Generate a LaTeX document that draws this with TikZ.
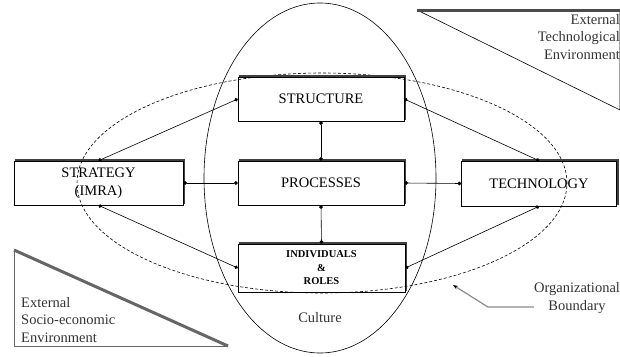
\documentclass[tikz,border=0pt]{standalone}
\usepackage{fontspec}
\setmainfont{Liberation Serif}
\usetikzlibrary{arrows.meta}

\begin{document}
\begin{tikzpicture}[x=1pt, y=-1pt,
		box/.style={draw, line width=0.6pt, inner sep=0pt, align=center, font=\fontsize{14.5}{18}\selectfont},
		link/.style={line width=0.6pt, {Circle[length=3.6pt]}-{Circle[length=3.6pt]}},
		txt/.style={inner sep=0pt, font=\fontsize{14.5}{17.5}\selectfont, text=black!80},
		leader/.style={line width=1.2pt, black!45, -{Stealth[length=5pt, black]}}
	]
		\useasboundingbox (0,0) rectangle (620,356);
		% culture and boundary
		\draw[line width=0.6pt] (320,178) ellipse [x radius=116pt, y radius=175pt];
		\draw[line width=0.6pt, dashed, dash pattern=on 3pt off 2pt] (322,183) ellipse [x radius=245pt, y radius=110pt];
		
		% environments
		\draw[line width=0.6pt] (417,10) -- (620,110) -- (620,10);
		\draw[line width=3pt, black!70] (417,10) -- (620,10);
		\node[txt, anchor=north east, align=right] (techenv) at (620,14) {External\\Technological\\Environment};
		\draw[line width=0.6pt, black!60] (14,250) -- (14,346) -- (228,346);
		\draw[line width=3pt, black!60] (14,250) -- (228,346);
		\node[txt, anchor=north west, align=left] (socioenv) at (21,297) {External\\Socio-economic\\Environment};
		
		\node[box, minimum width=166pt, minimum height=44pt] (structure) at (321,99) {STRUCTURE};
		\node[box, minimum width=166pt, minimum height=44pt] (processes) at (321,183) {PROCESSES};
		\node[box, minimum width=167pt, minimum height=48pt, font=\bfseries\fontsize{10.5}{13.5}\selectfont] (roles) at (321.5,268) {INDIVIDUALS\\\&\\ROLES};
		\node[box, minimum width=169pt, minimum height=44pt] (strategy) at (98.5,183) {STRATEGY\\(IMRA)};
		\node[box, minimum width=155pt, minimum height=45pt] (technology) at (539,183.5) {TECHNOLOGY};
		\foreach \b in {structure, processes, roles, strategy, technology} {
			\draw[line width=1.6pt, black!75] ([shift={(1,-1)}]\b.north west) -- ([shift={(1,-1)}]\b.north east) -- ([shift={(1,-1)}]\b.south east);
		}
		
		\draw[link] (strategy.north) -- (structure.west);
		\draw[link] (strategy.east) -- (processes.west);
		\draw[link] (strategy.south) -- (roles.west);
		\draw[link] (structure.south) -- (processes.north);
		\draw[link] (processes.south) -- (roles.north);
		\draw[link] (structure.east) -- (technology.north);
		\draw[link] (processes.east) -- (technology.west);
		\draw[link] (roles.east) -- (technology.south);
		
		\node[txt] (culture) at (320,318) {Culture};
		\node[txt, align=center] (boundary) at (577,298) {Organizational\\Boundary};
		\coordinate (edge) at (453,285);
		\draw[leader] (boundary.west) ++(0,9) -- ++(-46,0) -- (edge);
	\end{tikzpicture}
\end{document}
